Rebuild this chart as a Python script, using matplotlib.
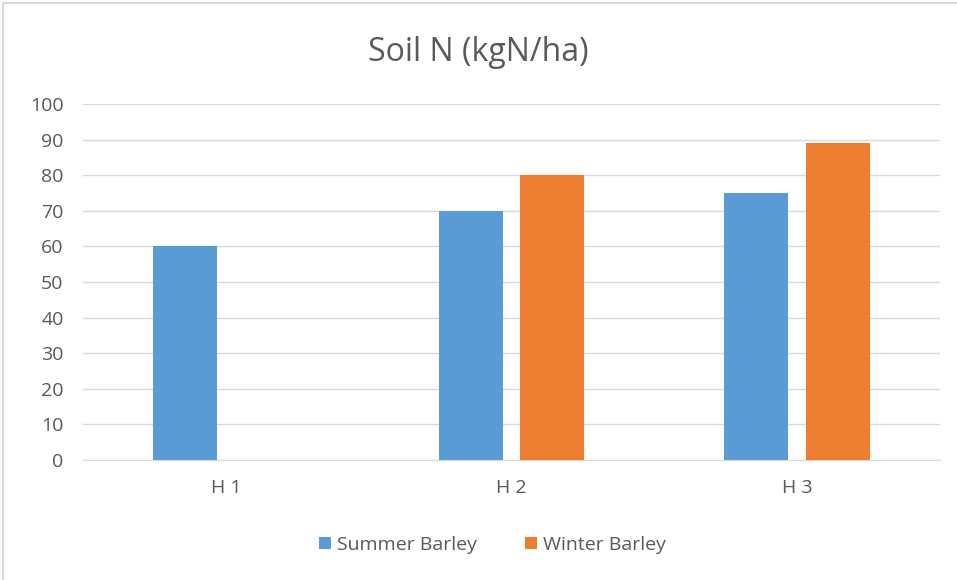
import matplotlib
matplotlib.use("Agg")
import matplotlib.pyplot as plt
import numpy as np
from matplotlib.lines import Line2D

categories = ["H 1", "H 2", "H 3"]
summer_barley = [60, 70, 75]
winter_barley = [np.nan, 80, 89]
y_ticks = [0, 10, 20, 30, 40, 50, 60, 70, 80, 90, 100]

plt.rcParams['font.family'] = ['Open Sans', 'DejaVu Sans']
txt = '#595959'

fig = plt.figure(figsize=(9.57, 5.80), dpi=100)
ax = fig.add_axes([0.0867, 0.2069, 0.8953, 0.6138])

x = np.arange(len(categories))
w = 0.224
off = 0.1425
ax.bar(x - off, summer_barley, w, color='#5B9BD5', label='Summer Barley', zorder=3)
ax.bar(x + off, winter_barley, w, color='#ED7D31', label='Winter Barley', zorder=3)

ax.set_xlim(-0.5, 2.5)
ax.set_ylim(0, 100)
ax.set_yticks(y_ticks)
ax.set_xticks(x)
ax.set_xticklabels(categories)
ax.tick_params(axis='both', length=0, labelsize=14, colors=txt)
ax.tick_params(axis='y', pad=14)
ax.tick_params(axis='x', pad=14)
ax.yaxis.grid(True, color='#d9d9d9', linewidth=1, zorder=0)
for s in ['top', 'right', 'left']:
    ax.spines[s].set_visible(False)
ax.spines['bottom'].set_color('#d9d9d9')

fig.text(0.5, 0.91, 'Soil N (kgN/ha)', ha='center', va='center', fontsize=23, color=txt)

ax.legend(loc='center', bbox_to_anchor=(0.478, -0.238), ncol=2, frameon=False,
          fontsize=14, labelcolor=txt, handlelength=0.6, handleheight=0.6,
          handletextpad=0.3, columnspacing=2.5)

fig.add_artist(Line2D([0.003, 0.003], [0, 0.995], transform=fig.transFigure, color='#d9d9d9', lw=1.5))
fig.add_artist(Line2D([0.003, 1], [0.995, 0.995], transform=fig.transFigure, color='#d9d9d9', lw=1.5))

fig.savefig('out.png', dpi=100)
